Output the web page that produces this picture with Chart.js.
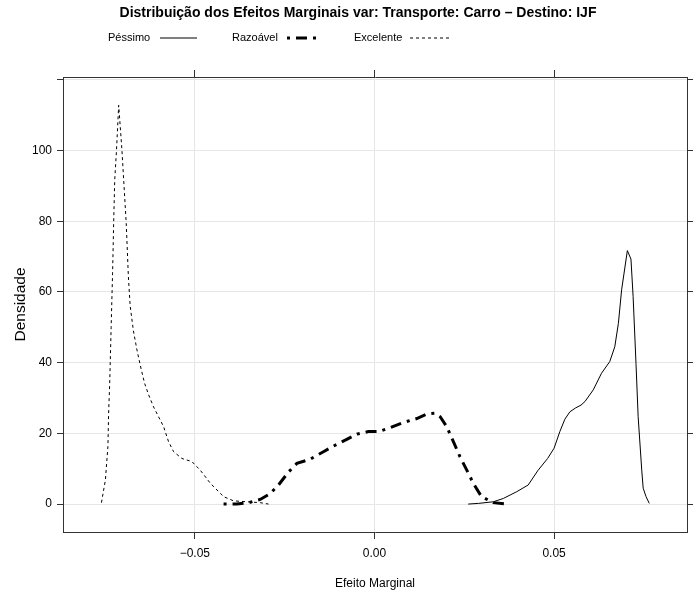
<!DOCTYPE html>
<html>
<head>
<meta charset="utf-8">
<script src="https://cdn.jsdelivr.net/npm/chart.js@4.4.1/dist/chart.umd.min.js"></script>
<style>
  html, body { margin: 0; padding: 0; background: #fff; }
  #wrap { width: 693px; height: 596px; }
</style>
</head>
<body>
<div id="wrap"><canvas id="chart" width="693" height="596"></canvas></div>
<script>
// DATA (x = efeito marginal, y = densidade)
const pessimoX = [0.0261, 0.0290, 0.0331, 0.0359, 0.0396, 0.0428, 0.0455, 0.0482, 0.0500, 0.0516, 0.0530, 0.0544, 0.0560, 0.0575, 0.0586, 0.0609, 0.0632, 0.0655, 0.0669, 0.0679, 0.0688, 0.0704, 0.0714, 0.0720, 0.0728, 0.0734, 0.0744, 0.0748, 0.0756, 0.0765];
const pessimoY = [0, 0.2, 0.65, 1.6, 3.5, 5.4, 9.5, 12.9, 15.8, 20.5, 24, 26.1, 27.2, 28, 29, 32.3, 37, 40.3, 44.5, 51.1, 60.6, 71.7, 69.3, 58.7, 39.8, 24.7, 9.6, 4.5, 2.1, 0.2];

const razoavelX = [-0.0420, -0.0383, -0.0350, -0.0318, -0.0290, -0.0267, -0.0239, -0.0216, -0.0179, -0.0142, -0.0114, -0.0077, -0.0049, -0.0017, 0.0011, 0.0044, 0.0081, 0.0118, 0.0146, 0.0169, 0.0183, 0.0201, 0.0220, 0.0238, 0.0257, 0.0275, 0.0298, 0.0331, 0.0368];
const razoavelY = [0, 0, 0.4, 1.3, 3, 5.4, 9.1, 11.5, 12.7, 14.8, 16.4, 18.3, 19.8, 20.5, 20.5, 21.6, 23.1, 24.2, 25.5, 25.7, 24.7, 21.9, 17.6, 13.4, 9.6, 5.9, 2.1, 0.4, 0];

const excelenteX = [-0.0760, -0.0749, -0.0742, -0.0740, -0.0737, -0.0733, -0.0729, -0.0726, -0.0723, -0.0718, -0.0712, -0.0703, -0.0697, -0.0691, -0.0685, -0.0680, -0.0671, -0.0660, -0.0649, -0.0640, -0.0629, -0.0615, -0.0587, -0.0573, -0.0559, -0.0536, -0.0508, -0.0485, -0.0457, -0.0420, -0.0392, -0.0355, -0.0318, -0.0295];
const excelenteY = [0.4, 6.8, 16.2, 25.7, 34.2, 50, 65.3, 79.4, 91.7, 100.2, 112.8, 100.2, 89.8, 79.4, 64.3, 56, 49, 43, 38, 34.2, 31, 27.5, 21.9, 17.6, 14.8, 12.9, 12.0, 9.6, 5.9, 2.1, 0.9, 0.65, 0.4, 0];

const seriesNames = ["Péssimo", "Razoável", "Excelente"];

const xTickValues = [-0.05, 0, 0.05];
const xTickLabels = ["\u22120.05", "0.00", "0.05"];
const yTickValues = [0, 20, 40, 60, 80, 100, 120];
const yTickLabels = ["0", "20", "40", "60", "80", "100", ""];

const xRange = [-0.0867, 0.0870];
const yRange = [-7.9, 120.8];

const titleText = "Distribuição dos Efeitos Marginais var: Transporte: Carro – Destino: IJF";

// STYLE
const FONT = "'Liberation Sans', Arial, sans-serif";
const GRID = "#e6e6e6";
const AXIS = "#333";

function toPoints(xs, ys) {
  return xs.map((x, i) => ({ x: x, y: ys[i] }));
}

function setTicks(values) {
  return (scale) => {
    scale.ticks = values.map((v) => ({ value: v }));
  };
}

function fixSize(w, h) {
  return (scale) => {
    if (w !== null) scale.width = w;
    if (h !== null) scale.height = h;
  };
}

const datasets = [
  {
    label: seriesNames[0],
    data: toPoints(pessimoX, pessimoY),
    borderColor: "#000",
    borderWidth: 1,
    borderDash: [],
  },
  {
    label: seriesNames[1],
    data: toPoints(razoavelX, razoavelY),
    borderColor: "#000",
    borderWidth: 3,
    borderDash: [3, 6, 11, 6],
  },
  {
    label: seriesNames[2],
    data: toPoints(excelenteX, excelenteY),
    borderColor: "#000",
    borderWidth: 1,
    borderDash: [3, 3],
  },
].map((d) => Object.assign(d, { showLine: true, pointRadius: 0, tension: 0, fill: false }));

// title + key drawn like the lattice header
const headerPlugin = {
  id: "header",
  afterDraw(chart) {
    const ctx = chart.ctx;
    ctx.save();
    ctx.fillStyle = "#000";
    ctx.textBaseline = "middle";
    ctx.font = "bold 14px " + FONT;
    ctx.textAlign = "center";
    ctx.fillText(titleText, 358, 13);

    ctx.font = "11px " + FONT;
    ctx.textAlign = "left";
    const keyY = 38;
    const textX = [108, 232, 354];
    const lineX = [[160, 197], [287, 316], [410, 450]];
    chart.data.datasets.forEach((ds, i) => {
      ctx.fillText(ds.label, textX[i], keyY);
      ctx.beginPath();
      ctx.setLineDash(ds.borderDash);
      ctx.lineWidth = ds.borderWidth;
      ctx.strokeStyle = ds.borderColor;
      ctx.moveTo(lineX[i][0], keyY);
      ctx.lineTo(lineX[i][1], keyY);
      ctx.stroke();
    });
    ctx.restore();
  },
};

new Chart(document.getElementById("chart"), {
  type: "scatter",
  data: { datasets },
  plugins: [headerPlugin],
  options: {
    responsive: false,
    animation: false,
    layout: { padding: 0 },
    plugins: { legend: { display: false }, tooltip: { enabled: false }, title: { display: false } },
    scales: {
      x: {
        type: "linear",
        position: "bottom",
        min: xRange[0],
        max: xRange[1],
        afterBuildTicks: setTicks(xTickValues),
        afterFit: fixSize(null, 64),
        grid: { color: GRID, tickColor: AXIS, tickLength: 7 },
        border: { color: AXIS, width: 1 },
        ticks: {
          color: "#000",
          font: { family: FONT, size: 12 },
          padding: 7,
          maxRotation: 0,
          callback: (v, i) => xTickLabels[i],
        },
        title: {
          display: true,
          text: "Efeito Marginal",
          color: "#000",
          font: { family: FONT, size: 12 },
          padding: { top: 0, bottom: 5 },
        },
      },
      x2: {
        type: "linear",
        axis: "x",
        position: "top",
        min: xRange[0],
        max: xRange[1],
        afterBuildTicks: setTicks(xTickValues),
        afterFit: fixSize(null, 77),
        grid: { drawOnChartArea: false, tickColor: AXIS, tickLength: 7 },
        border: { color: AXIS, width: 1 },
        ticks: { display: false },
      },
      y: {
        type: "linear",
        position: "left",
        min: yRange[0],
        max: yRange[1],
        afterBuildTicks: setTicks(yTickValues),
        afterFit: fixSize(63, null),
        grid: { color: GRID, tickColor: AXIS, tickLength: 6 },
        border: { color: AXIS, width: 1 },
        ticks: {
          color: "#000",
          font: { family: FONT, size: 12 },
          padding: 5,
          callback: (v, i) => yTickLabels[i],
        },
        title: {
          display: true,
          text: "Densidade",
          color: "#000",
          font: { family: FONT, size: 15.5 },
          padding: { top: 11, bottom: 0 },
        },
      },
      y2: {
        type: "linear",
        axis: "y",
        position: "right",
        min: yRange[0],
        max: yRange[1],
        afterBuildTicks: setTicks(yTickValues),
        afterFit: fixSize(6, null),
        grid: { drawOnChartArea: false, tickColor: AXIS, tickLength: 6 },
        border: { color: AXIS, width: 1 },
        ticks: { display: false },
      },
    },
  },
});
</script>
</body>
</html>
